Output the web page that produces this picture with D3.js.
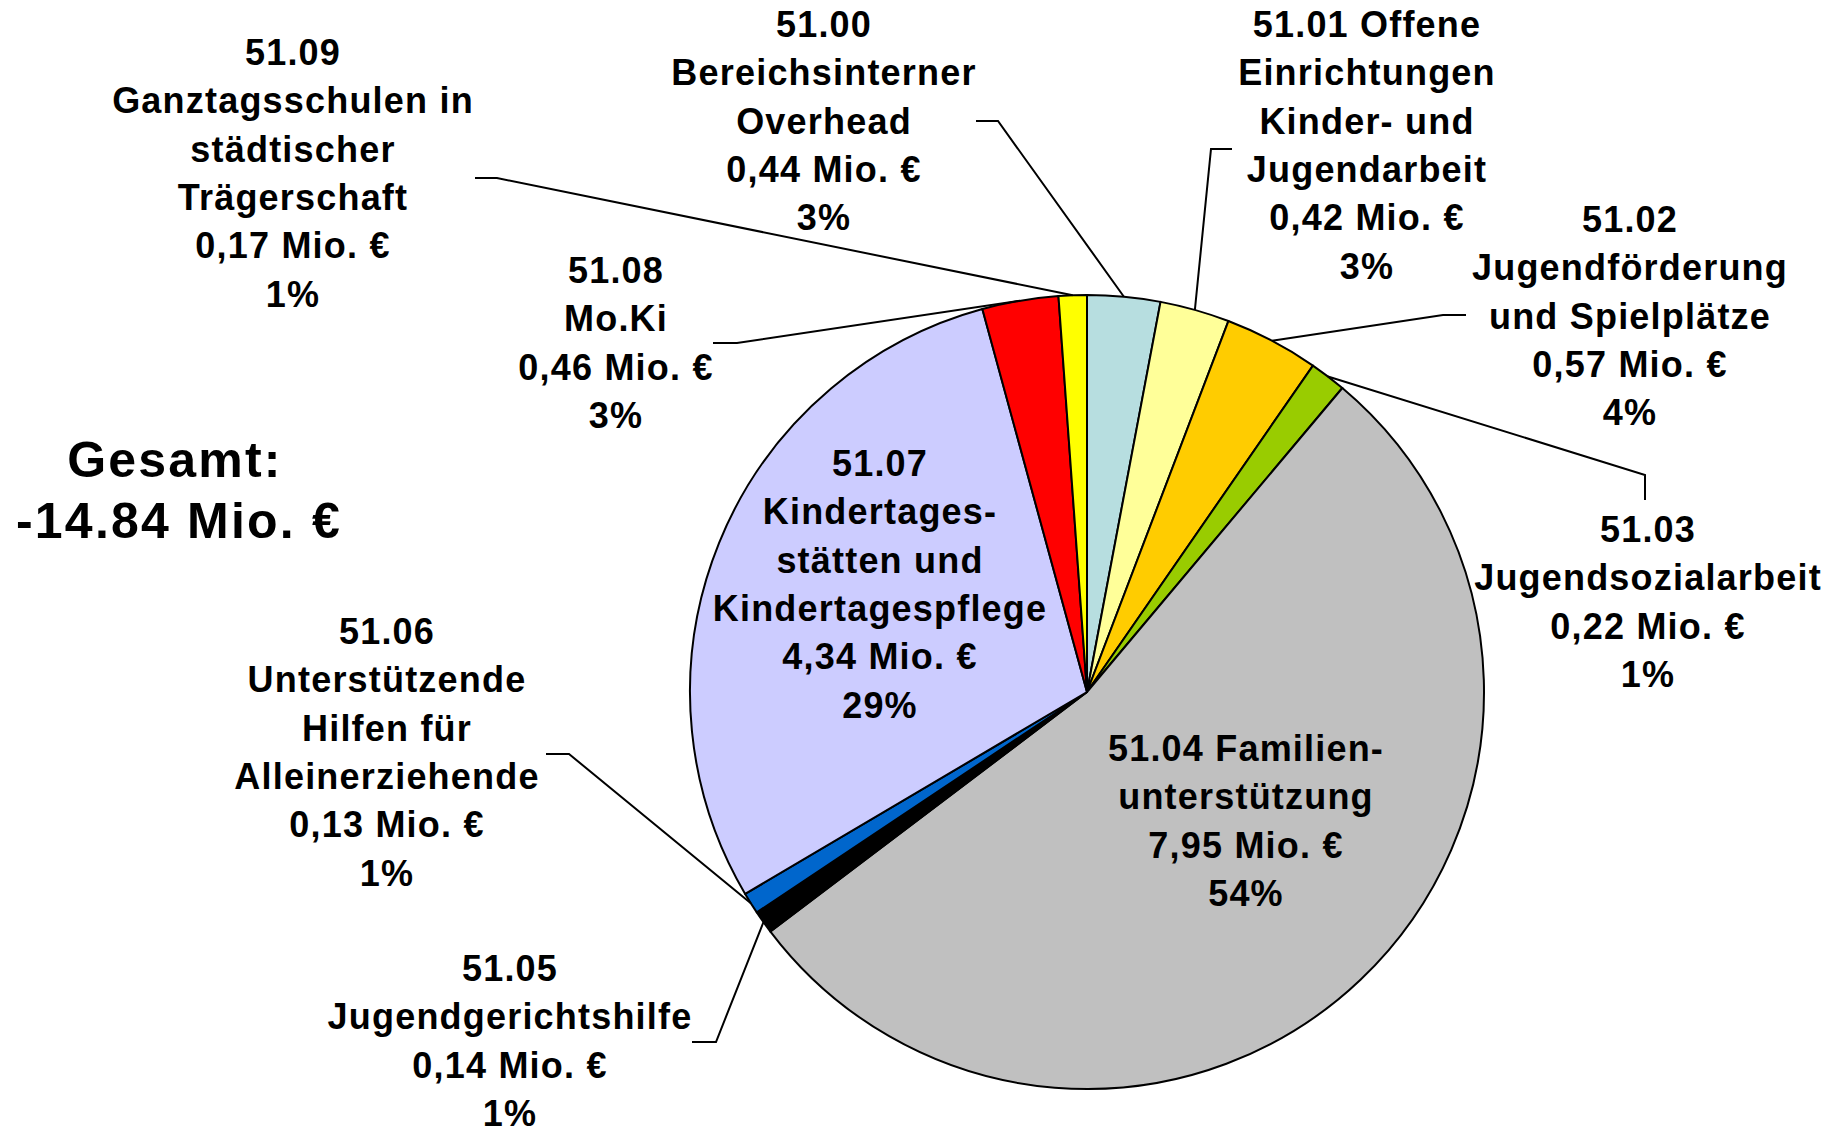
<!DOCTYPE html>
<html>
<head>
<meta charset="utf-8">
<script src="https://cdn.jsdelivr.net/npm/d3@7"></script>
<style>
    body { margin: 0; background: #fff; }
    text { font-family: "Liberation Sans", Arial, sans-serif; font-weight: bold; fill: #000; }
</style>
</head>
<body>
<script>
// Produkte 51.xx, Zuschussbedarf in Mio. €
var codes = ['51.00', '51.01', '51.02', '51.03', '51.04', '51.05', '51.06', '51.07', '51.08', '51.09'];
var names = [
    '\nBereichsinterner\nOverhead',
    ' Offene\nEinrichtungen\nKinder- und\nJugendarbeit',
    '\nJugendförderung\nund Spielplätze',
    '\nJugendsozialarbeit',
    ' Familien-\nunterstützung',
    '\nJugendgerichtshilfe',
    '\nUnterstützende\nHilfen für\nAlleinerziehende',
    '\nKindertages-\nstätten und\nKindertagespflege',
    '\nMo.Ki',
    '\nGanztagsschulen in\nstädtischer\nTrägerschaft'
];
var values = [0.44, 0.42, 0.57, 0.22, 7.95, 0.14, 0.13, 4.34, 0.46, 0.17];

var colors = ['#b7dee0', '#ffff99', '#ffcc00', '#99cc00', '#c0c0c0',
    '#000000', '#0066cc', '#ccccff', '#ff0000', '#ffff00'];

// label placement: x = centre of the text block, y = first baseline,
// leader = elbow point and end of the short tick (null = label sits in the slice)
var labelLayout = [
    {x: 824, y: 37, leader: [[998, 121], [976, 121]]},
    {x: 1367, y: 37, leader: [[1211, 149], [1232, 149]]},
    {x: 1630, y: 232, leader: [[1443, 315], [1466, 315]]},
    {x: 1648, y: 542, leader: [[1645, 475], [1645, 500]]},
    {x: 1246, y: 761, leader: null},
    {x: 510, y: 981, leader: [[716, 1042], [692, 1042]]},
    {x: 387, y: 644, leader: [[569, 754], [546, 754]]},
    {x: 880, y: 476, leader: null},
    {x: 616, y: 283, leader: [[737, 343], [713, 343]]},
    {x: 293, y: 65, leader: [[497, 178], [475, 178]]}
];

var width = 1840,
    height = 1128,
    cx = 1087,
    cy = 692,
    radius = 397,
    lineHeight = 48.3;

var total = d3.sum(values);
var fmt = d3.format('.2f');

var svg = d3.select('body').append('svg')
    .attr('width', width)
    .attr('height', height);

var pie = d3.pie()
    .sort(null)
    .value(function (d) { return d; });

var arc = d3.arc()
    .innerRadius(0)
    .outerRadius(radius);

// point on the rim at the middle of a slice, start of the leader line
var rim = d3.arc()
    .innerRadius(radius)
    .outerRadius(radius);

var arcs = pie(values);

var g = svg.append('g')
    .attr('transform', 'translate(' + cx + ',' + cy + ')');

g.selectAll('path.slice')
    .data(arcs)
    .enter().append('path')
    .attr('class', 'slice')
    .attr('d', arc)
    .style('fill', function (d, i) { return colors[i]; })
    .style('stroke', '#000')
    .style('stroke-width', 2)
    .style('stroke-linejoin', 'round');

// leader lines
var line = d3.line();
svg.selectAll('path.leader')
    .data(arcs.filter(function (d, i) { return labelLayout[i].leader; }))
    .enter().append('path')
    .attr('class', 'leader')
    .attr('d', function (d) {
        var c = rim.centroid(d);
        var l = labelLayout[d.index].leader;
        return line([[cx + c[0], cy + c[1]], l[0], l[1]]);
    })
    .style('fill', 'none')
    .style('stroke', '#000')
    .style('stroke-width', 2);

// slice labels
var labels = svg.selectAll('text.label')
    .data(arcs)
    .enter().append('text')
    .attr('class', 'label')
    .attr('text-anchor', 'middle')
    .style('font-size', '36px')
    .style('letter-spacing', '1.2px');

labels.each(function (d, i) {
    var lines = (codes[i] + names[i]).split('\n');
    lines.push(fmt(values[i]).replace('.', ',') + ' Mio. €');
    lines.push(Math.round(values[i] / total * 100) + '%');
    var t = d3.select(this);
    lines.forEach(function (s, k) {
        t.append('tspan')
            .attr('x', labelLayout[i].x)
            .attr('y', labelLayout[i].y + k * lineHeight)
            .text(s);
    });
});

// total
var totalText = svg.append('text')
    .attr('text-anchor', 'middle')
    .style('font-size', '50px')
    .style('letter-spacing', '2.2px');

totalText.append('tspan')
    .attr('x', 175)
    .attr('y', 477)
    .text('Gesamt:');

totalText.append('tspan')
    .attr('x', 179)
    .attr('y', 538)
    .text('-' + fmt(total) + ' Mio. €');
</script>
</body>
</html>
